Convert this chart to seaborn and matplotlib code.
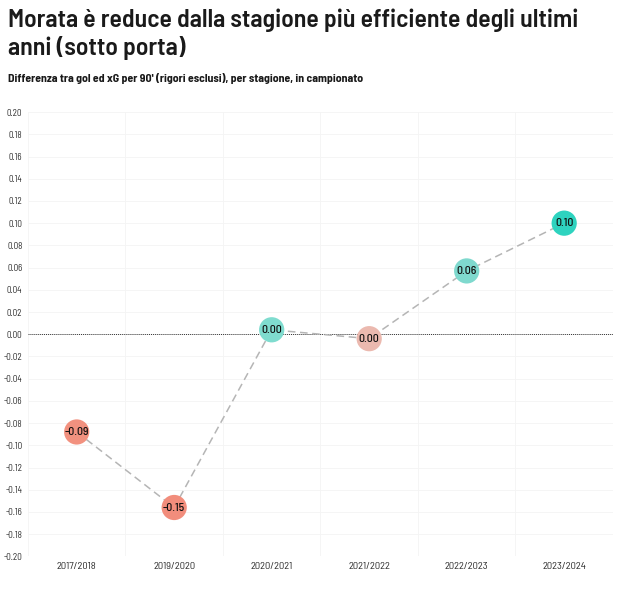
import pandas as pd
import seaborn as sns
import matplotlib.pyplot as plt

# values
stagioni = ['2017/2018', '2019/2020', '2020/2021', '2021/2022', '2022/2023', '2023/2024']
diff = [-0.088, -0.156, 0.004, -0.004, 0.057, 0.100]
etichette = ['-0.09', '-0.15', '0.00', '0.00', '0.06', '0.10']
colori = ['#F2917F', '#F28D7C', '#7FDCCF', '#EBB9AF', '#7FD9CE', '#2ED3BF']

df = pd.DataFrame({'stagione': stagioni, 'diff': diff})

sns.set_style('white')
plt.rcParams['font.family'] = ['Barlow Semi Condensed', 'DejaVu Sans']

fig, ax = plt.subplots(figsize=(6.21, 5.9), dpi=100)
fig.subplots_adjust(left=0.045, right=0.987, top=0.81, bottom=0.057)

sns.lineplot(x='stagione', y='diff', data=df, ax=ax, color='#b5b5b5',
             linestyle=(0, (5, 3)), linewidth=1.1, sort=False, zorder=2)
sns.scatterplot(x='stagione', y='diff', data=df, ax=ax, hue='stagione',
                palette=colori, s=330, edgecolor='none', legend=False, zorder=3)

for i, (v, t) in enumerate(zip(diff, etichette)):
    ax.text(i, v, t, ha='center', va='center', fontsize=8.5, fontweight='medium',
            color='#111111', zorder=4)

ax.axhline(0, color='#333333', linestyle=(0, (1, 1)), linewidth=0.7, zorder=1)

ax.set_ylim(-0.2, 0.2)
ax.set_xlim(-0.5, 5.5)
yt = [round(-0.2 + 0.02 * k, 2) for k in range(21)]
ax.set_yticks(yt)
ax.set_yticklabels([f'{v:.2f}' for v in yt], fontsize=6.5, color='#2a2a2a')
ax.set_xticks(range(len(stagioni)))
ax.set_xticklabels(stagioni, fontsize=7.5, color='#2a2a2a')
ax.set_xticks([i + 0.5 for i in range(-1, 6)], minor=True)
ax.tick_params(axis='both', length=0, pad=4)
ax.tick_params(axis='x', which='minor', length=0)
ax.grid(axis='y', color='#f4f4f4', linewidth=0.6)
ax.grid(axis='x', which='minor', color='#f4f4f4', linewidth=0.6)
ax.grid(axis='x', which='major', visible=False)
for s in ax.spines.values():
    s.set_visible(False)
ax.set_xlabel('')
ax.set_ylabel('')

fig.text(0.013, 0.985, 'Morata è reduce dalla stagione più efficiente degli ultimi\nanni (sotto porta)',
         ha='left', va='top', fontsize=18.5, fontweight='semibold', color='#1a1a1a', linespacing=1.2)
fig.text(0.013, 0.876, "Differenza tra gol ed xG per 90' (rigori esclusi), per stagione, in campionato",
         ha='left', va='top', fontsize=8.5, fontweight='bold', color='#1a1a1a')

plt.savefig('out.png', dpi=100)
